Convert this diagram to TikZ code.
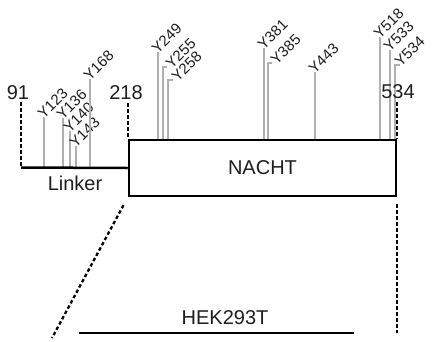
\documentclass[tikz,border=0pt]{standalone}
\usepackage{fontspec}
\setmainfont{Liberation Sans}
\definecolor{tyrgray}{HTML}{B0B0B0}
\definecolor{inkdark}{HTML}{1E1E1E}
\usetikzlibrary{positioning, calc}
\tikzset{
  tyr/.style={draw=tyrgray, line width=2.2pt},
  tyrlabel/.style={rotate=45, anchor=south west, inner sep=0pt, text=inkdark,
                   font=\fontsize{15}{17}\selectfont},
  bigtext/.style={inner sep=0pt, text=inkdark, font=\fontsize{20}{24}\selectfont},
  resnum/.style={bigtext, anchor=base},
  dotline/.style={line width=2.3pt, dash pattern=on 3.5pt off 2.5pt},
}

\begin{document}
\begin{tikzpicture}[x=1pt, y=-1pt]
    \useasboundingbox (0,0) rectangle (434,341);
    \coordinate (linkstart) at (21,167.5);
    \node[draw, line width=2.5pt, minimum width=267pt, minimum height=56pt,
          bigtext] (nacht) at (262.5,168) {NACHT};
    \foreach \x/\t/\name in {44/117/123, 63/118/136, 70/131/140, 76/146/143, 90/79/168} {
      \draw[tyr] (\x,\t) -- (\x,\t |- linkstart);
      \node[tyrlabel] (y\name) at (\x,\t+3) {Y\name};
    }
    \foreach \x/\t/\name in {158/52/249, 264/48/381, 315/72/443, 380/37/518, 390/50/533} {
      \draw[tyr] (\x,\t) -- (\x,\t |- nacht.north);
      \node[tyrlabel] (y\name) at (\x,\t+3) {Y\name};
    }
    \foreach \x/\t/\e/\lx/\name in {163/67/167/172/255, 168/80/173/178/258,
                                    268/63/272/277/385, 395/65/400/401/534} {
      \draw[tyr] (\e,\t) -- (\x,\t) -- (\x,\t |- nacht.north);
      \node[tyrlabel] (y\name) at (\lx,\t+3) {Y\name};
    }
    \draw[line width=2.5pt] (linkstart) -- (nacht.west);
    \node[bigtext] (linker) at (75,183) {Linker};
    \node[resnum] (n91) at (18,99) {91};
    \node[resnum] (n218) at (126,99) {218};
    \node[resnum] (n534) at (398,98) {534};
    \draw[dotline, shorten <=3pt] (n91.south -| linkstart) -- (linkstart);
    \draw[dotline, shorten <=4pt] (n218.south -| nacht.north west) -- (nacht.north west);
    \draw[dotline, shorten <=4pt] (n534.south -| nacht.north east) -- (nacht.north east);
    \coordinate (zoomleft) at (52,338);
    \coordinate (zoomright) at (nacht.south east |- 0,333);
    \draw[dotline, shorten <=9pt] (nacht.south west) -- (zoomleft);
    \draw[dotline, shorten <=7pt] (nacht.south east) -- (zoomright);
    \coordinate (hekleft) at (79,333);
    \coordinate (hekright) at (354,333);
    \draw[line width=2.5pt] (hekleft) -- (hekright);
    \node[bigtext] (hek) at (225,318) {HEK293T};
\end{tikzpicture}
\end{document}
